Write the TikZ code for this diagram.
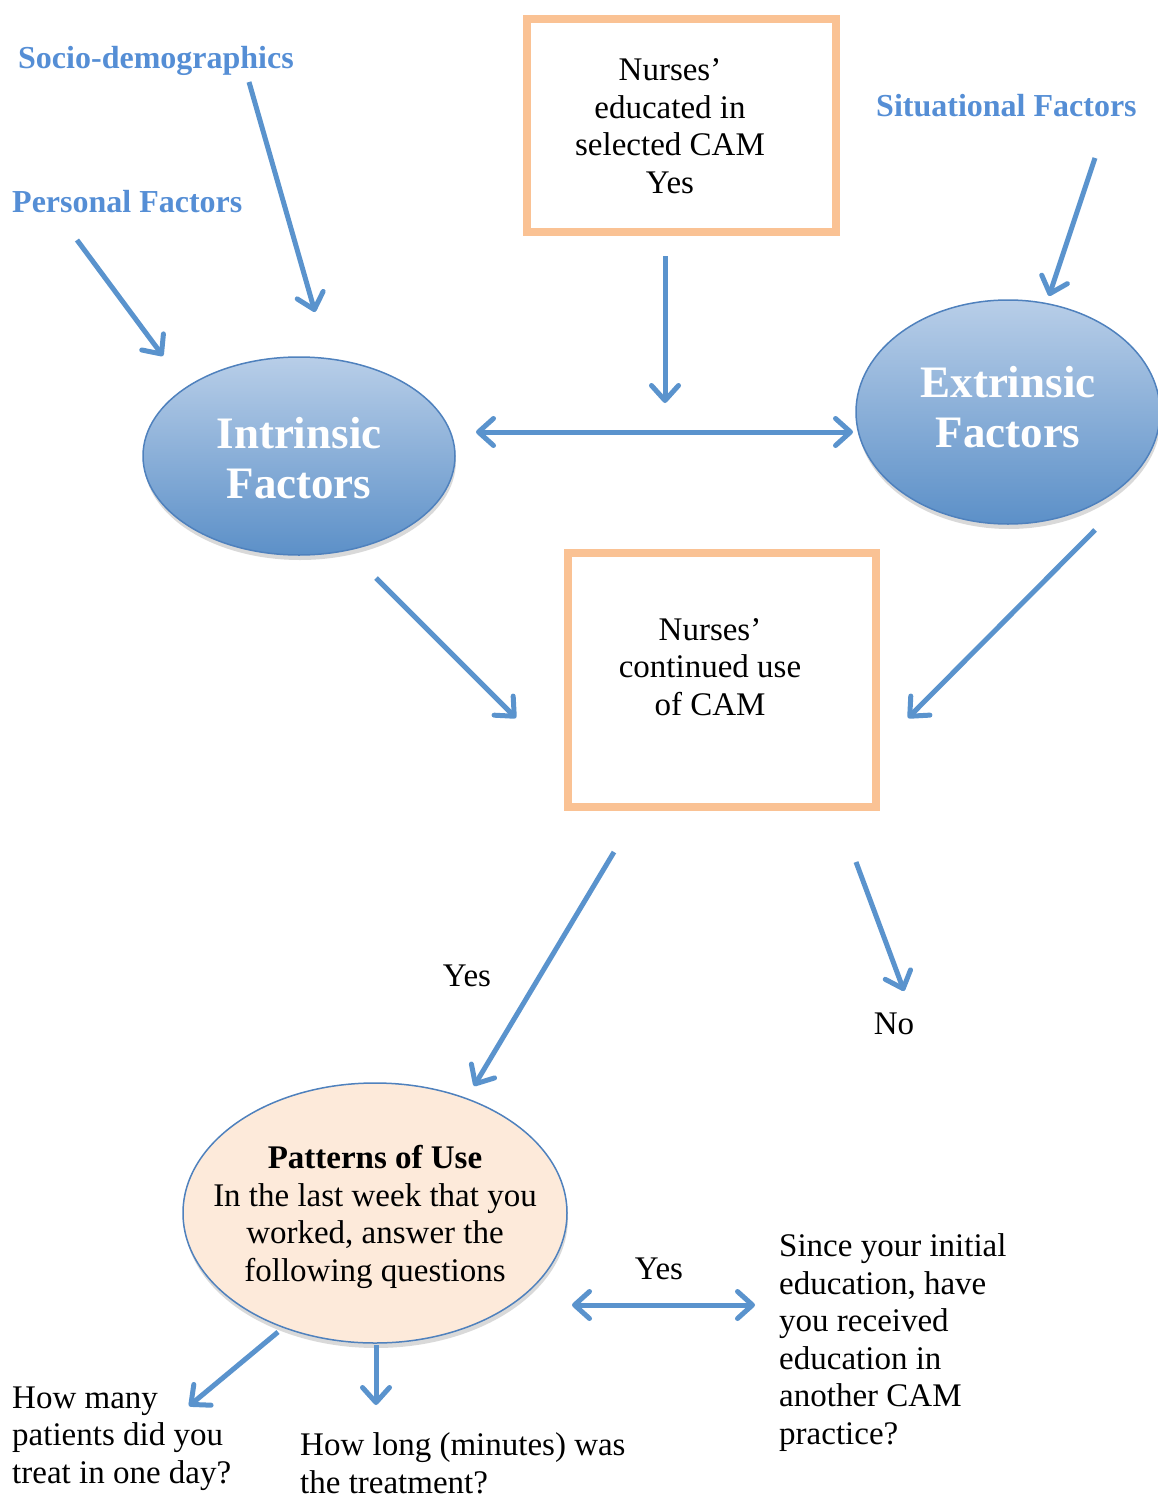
\documentclass[tikz,border=0pt]{standalone}
\usepackage{fontspec}
\setmainfont{Liberation Serif}
\usetikzlibrary{arrows.meta,shapes.geometric,shadows}
\definecolor{arrowblue}{RGB}{90,147,205}
\definecolor{labelblue}{RGB}{85,142,213}
\definecolor{orangeb}{RGB}{250,194,148}
\definecolor{elltop}{RGB}{184,206,232}
\definecolor{ellbot}{RGB}{92,144,200}
\definecolor{ellborder}{RGB}{79,129,189}
\definecolor{peach}{RGB}{253,234,218}
\begin{document}
\begin{tikzpicture}[x=1pt,y=-1pt,
  arr/.style={draw=arrowblue,line width=5pt,-{Straight Barb[length=15pt,width=27pt,round]}},
  dblarr/.style={draw=arrowblue,line width=5pt,{Straight Barb[length=15pt,width=27pt,round]}-{Straight Barb[length=15pt,width=27pt,round]}},
  body/.style={font=\fontsize{33}{37.5}\selectfont, inner sep=0pt},
  lbl/.style={font=\fontsize{32}{38}\selectfont\bfseries, text=labelblue, inner sep=0pt, anchor=base west},
  ebold/.style={font=\fontsize{45}{50}\selectfont\bfseries, text=white, inner sep=0pt, align=center, anchor=base},
  obox/.style={draw=orangeb, line width=8pt, fill=white, inner sep=0pt,
    drop shadow={shadow xshift=2pt, shadow yshift=-4pt, opacity=0.18, fill=black}},
  bigell/.style={ellipse, draw=ellborder, line width=1.5pt, top color=elltop, bottom color=ellbot, inner sep=0pt,
    drop shadow={shadow xshift=1pt, shadow yshift=-5pt, opacity=0.15, fill=black}},
]
\useasboundingbox (0,0) rectangle (1157,1496);

% boxes
\node[obox, minimum width=309pt, minimum height=213pt] (topbox) at (681.5,125.5) {};
\node[obox, minimum width=308pt, minimum height=254pt] (midbox) at (722,680) {};
\node[body, align=center, anchor=base] (toptext) at (670,193) {Nurses’\\educated in\\selected CAM\\Yes};
\node[body, align=center, anchor=base] (midtext) at (710,715) {Nurses’\\continued use\\of CAM};

% ellipses
\node[bigell, minimum width=312pt, minimum height=198pt] (intr) at (299,456) {};
\node[ebold] (intrtext) at (299,498) {Intrinsic\\Factors};
\node[bigell, minimum width=304pt, minimum height=224pt] (extr) at (1008,412) {};
\node[ebold] (extrtext) at (1008,447) {Extrinsic\\Factors};
\node[ellipse, draw=ellborder, line width=1.5pt, fill=peach, inner sep=0pt,
  minimum width=384pt, minimum height=260pt,
  drop shadow={shadow xshift=1pt, shadow yshift=-5pt, opacity=0.15, fill=black}] (patt) at (375,1213) {};
\node[body, align=center, anchor=base] (patttext) at (375,1281) {\textbf{Patterns of Use}\\In the last week that you\\worked, answer the\\following questions};

% blue labels
\node[lbl] (socio) at (18,68) {Socio-demographics};
\node[lbl] (pers) at (12,212) {Personal Factors};
\node[lbl] (situ) at (876,116) {Situational Factors};

% other texts
\node[body, anchor=base] (yes1) at (467,986) {Yes};
\node[body, anchor=base] (no1) at (894,1034) {No};
\node[body, anchor=base] (yes2) at (659,1279) {Yes};
\node[body, align=left, anchor=base west] (since) at (779,1444) {Since your initial\\education, have\\you received\\education in\\another CAM\\practice?};
\node[body, align=left, anchor=base west] (howmany) at (12,1483) {How many\\patients did you\\treat in one day?};
\node[body, align=left, anchor=base west] (howlong) at (300,1493) {How long (minutes) was\\the treatment?};

% connector end points
\coordinate (a1s) at (249,82);   \coordinate (a1e) at (315,312);
\coordinate (a2s) at (77,240);   \coordinate (a2e) at (163,356);
\coordinate (a3s) at (1095,158); \coordinate (a3e) at (1049,296);
\coordinate (a4s) at (665,256);  \coordinate (a4e) at (665,403);
\coordinate (a5s) at (476,432);  \coordinate (a5e) at (853,432);
\coordinate (a6s) at (376,578);  \coordinate (a6e) at (516,718);
\coordinate (a7s) at (1095,530); \coordinate (a7e) at (908,718);
\coordinate (a8s) at (614,852);  \coordinate (a8e) at (474,1086);
\coordinate (a9s) at (856,862);  \coordinate (a9e) at (904,991);
\coordinate (a10s) at (572,1305); \coordinate (a10e) at (755,1305);
\coordinate (a11s) at (278,1332); \coordinate (a11e) at (189,1406);
\coordinate (a12s) at (376,1345); \coordinate (a12e) at (376,1405);

\draw[arr] (a1s) -- (a1e);
\draw[arr] (a2s) -- (a2e);
\draw[arr] (a3s) -- (a3e);
\draw[arr] (a4s) -- (a4e);
\draw[dblarr] (a5s) -- (a5e);
\draw[arr] (a6s) -- (a6e);
\draw[arr] (a7s) -- (a7e);
\draw[arr] (a8s) -- (a8e);
\draw[arr] (a9s) -- (a9e);
\draw[dblarr] (a10s) -- (a10e);
\draw[arr] (a11s) -- (a11e);
\draw[arr] (a12s) -- (a12e);
\end{tikzpicture}
\end{document}
